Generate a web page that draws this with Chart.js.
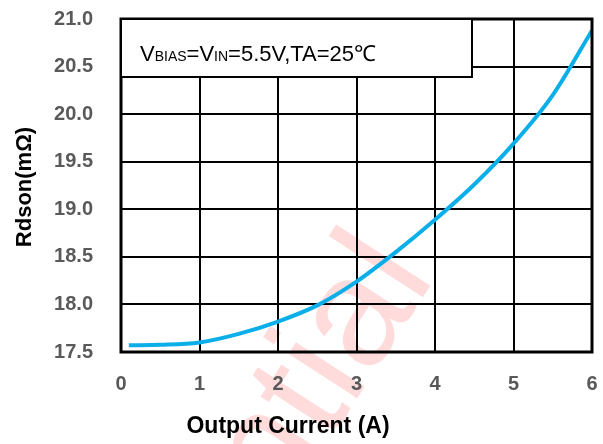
<!DOCTYPE html>
<html>
<head>
<meta charset="utf-8">
<script src="https://cdn.jsdelivr.net/npm/chart.js@4.4.1/dist/chart.umd.min.js"></script>
<style>
  body { margin: 0; background: #fff; }
  #rdsonChart { display: block; }
</style>
</head>
<body>
<canvas id="rdsonChart" width="603" height="444"></canvas>
<script>
// Output current (A) and on resistance (mOhm)
const corriente = [0.1, 0.5, 1, 1.5, 2, 2.5, 3, 3.5, 4, 4.5, 5, 5.5, 6];
const rdson = [17.57, 17.575, 17.6, 17.69, 17.82, 17.99, 18.24, 18.55, 18.89, 19.26, 19.69, 20.2, 20.88];
const xTicks = [0, 1, 2, 3, 4, 5, 6];
const yTicks = [17.5, 18.0, 18.5, 19.0, 19.5, 20.0, 20.5, 21.0];

const fuente = '"Liberation Sans", Arial, sans-serif';

// watermark, frame, condition box and axis titles
const extras = {
    id: 'extras',
    beforeDraw(chart) {
        const ctx = chart.ctx;
        ctx.save();
        ctx.translate(436, 277);
        ctx.rotate(-57 * Math.PI / 180);
        ctx.font = '155px ' + fuente;
        ctx.textAlign = 'right';
        ctx.textBaseline = 'alphabetic';
        ctx.fillStyle = 'rgba(255, 0, 0, 0.14)';
        ctx.fillText('Confidential', 0, 0);
        ctx.restore();
    },
    afterDraw(chart) {
        const ctx = chart.ctx;
        const a = chart.chartArea;
        ctx.save();
        ctx.strokeStyle = '#000';
        ctx.lineWidth = 3;
        ctx.strokeRect(a.left, a.top, a.right - a.left, a.bottom - a.top);

        // condition box
        ctx.fillStyle = '#fff';
        ctx.fillRect(a.left, a.top, 351, 58);
        ctx.lineWidth = 2;
        ctx.strokeRect(a.left, a.top, 351, 58);

        ctx.fillStyle = '#000';
        ctx.textBaseline = 'alphabetic';
        ctx.textAlign = 'left';
        let x = 140;
        const y = 61;
        const partes = [['V', 22], ['BIAS', 14], ['=V', 22], ['IN', 14], ['=5.5V,TA=25℃', 22]];
        partes.forEach(p => {
            ctx.font = p[1] + 'px ' + fuente;
            ctx.fillText(p[0], x, y);
            x += ctx.measureText(p[0]).width;
        });

        // axis titles
        ctx.textAlign = 'center';
        ctx.textBaseline = 'middle';
        ctx.font = 'bold 23px ' + fuente;
        ctx.fillText('Output Current (A)', 288, 427);
        ctx.font = 'bold 22px ' + fuente;
        ctx.translate(25, 187);
        ctx.rotate(-Math.PI / 2);
        ctx.fillText('Rdson(mΩ)', 0, 0);
        ctx.restore();
    }
};

function sinSobrante(s) {
    s.paddingTop = 0;
    s.paddingBottom = 0;
    s.paddingLeft = 0;
    s.paddingRight = 0;
}

new Chart(document.getElementById('rdsonChart'), {
    type: 'line',
    data: {
        datasets: [{
            label: 'Rdson',
            data: corriente.map((c, i) => ({ x: c, y: rdson[i] })),
            borderColor: '#0AAFEA',
            borderWidth: 4,
            pointRadius: 0,
            cubicInterpolationMode: 'monotone',
            fill: false
        }]
    },
    options: {
        responsive: false,
        animation: false,
        layout: { padding: { top: 19, right: 11, left: 0, bottom: 0 } },
        plugins: {
            legend: { display: false },
            tooltip: { enabled: false }
        },
        scales: {
            x: {
                type: 'linear',
                min: 0,
                max: 6,
                afterBuildTicks: s => { s.ticks = xTicks.map(v => ({ value: v })); },
                afterFit: s => { s.height = 92; sinSobrante(s); },
                grid: { color: '#000', lineWidth: 2, drawTicks: false },
                border: { display: false },
                ticks: {
                    padding: 20,
                    color: '#595959',
                    font: { family: fuente, size: 20, weight: 'bold' }
                }
            },
            y: {
                min: 17.5,
                max: 21,
                afterBuildTicks: s => { s.ticks = yTicks.map(v => ({ value: v })); },
                afterFit: s => { s.width = 121; sinSobrante(s); },
                grid: { color: '#000', lineWidth: 2, drawTicks: false },
                border: { display: false },
                ticks: {
                    padding: 28,
                    color: '#595959',
                    font: { family: fuente, size: 20, weight: 'bold' },
                    callback: v => v.toFixed(1)
                }
            }
        }
    },
    plugins: [extras]
});
</script>
</body>
</html>
